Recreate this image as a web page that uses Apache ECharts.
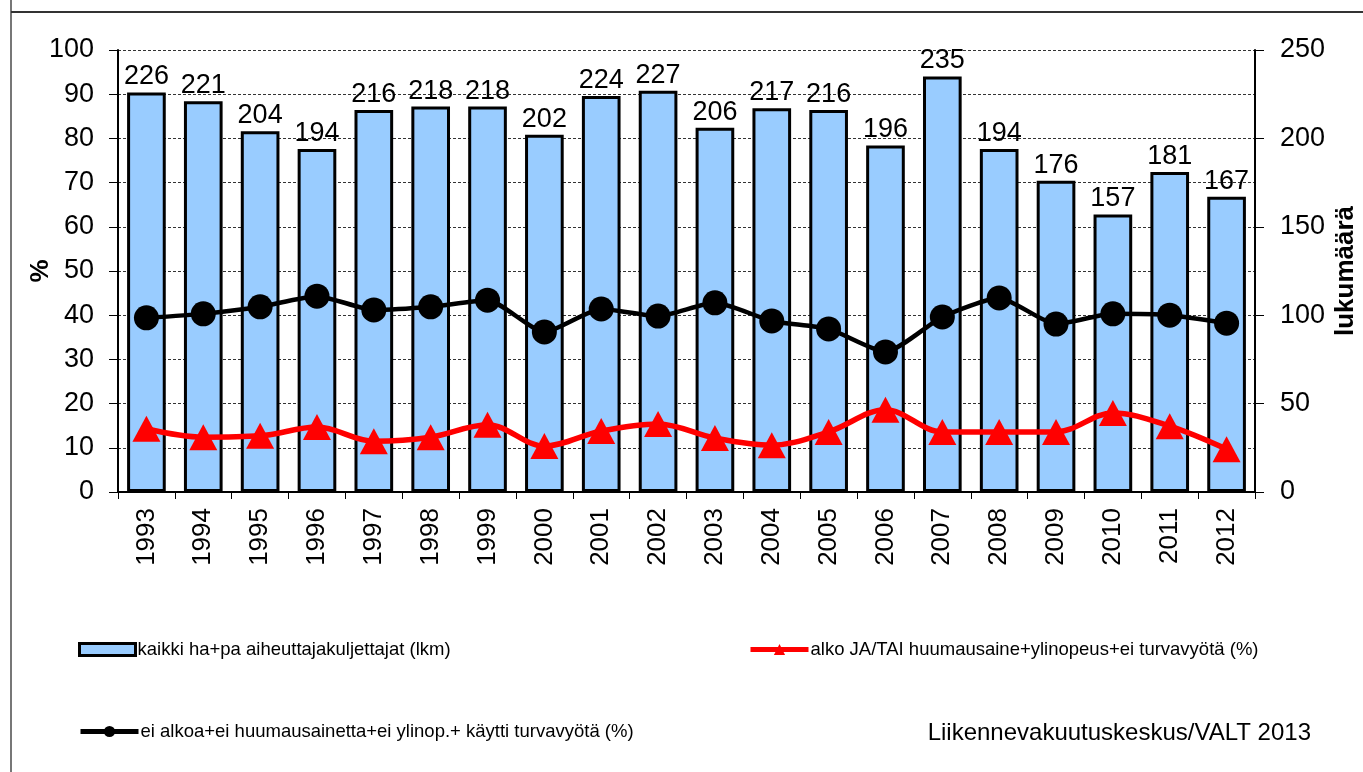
<!DOCTYPE html>
<html>
<head>
<meta charset="utf-8">
<script src="https://cdn.jsdelivr.net/npm/echarts@6/dist/echarts.min.js"></script>
<style>
html, body { margin: 0; padding: 0; background: #fff; }
#chart { width: 1363px; height: 772px; }
</style>
</head>
<body>
<div id="chart"></div>
<script>
var years = ['1993','1994','1995','1996','1997','1998','1999','2000','2001','2002',
	'2003','2004','2005','2006','2007','2008','2009','2010','2011','2012'];
var kaikki = [226,221,204,194,216,218,218,202,224,227,206,217,216,196,235,194,176,157,181,167];
var eiAlkoa = [39.4,40.3,41.9,44.3,41.2,41.9,43.4,36.2,41.4,39.8,42.8,38.7,36.9,31.7,39.6,43.9,38.0,40.3,40.0,38.2];
var alkoJaTai = [14.3,12.4,12.7,14.7,11.5,12.4,15.2,10.4,13.8,15.4,12.2,10.6,13.6,18.6,13.6,13.6,13.6,17.9,14.9,9.7];

var nameBar = 'kaikki ha+pa aiheuttajakuljettajat (lkm)';
var nameRed = 'alko JA/TAI huumausaine+ylinopeus+ei turvavyötä (%)';
var nameBlack = 'ei alkoa+ei huumausainetta+ei ylinop.+ käytti turvavyötä (%)';

var font = 'Liberation Sans, Arial, sans-serif';

var legendBase = {
	orient: 'horizontal',
	itemGap: 0,
	itemWidth: 56,
	itemHeight: 12,
	textStyle: { fontFamily: font, fontSize: 18.5, color: '#000', padding: [0, 0, 0, -3] },
	selectedMode: false
};

var option = {
	animation: false,
	backgroundColor: '#fff',
	textStyle: { fontFamily: font },
	grid: { left: 118, right: 108, top: 50, bottom: 280, containLabel: false, outerBoundsMode: 'none' },
	legend: [
		Object.assign({}, legendBase, { left: 73, top: 635, data: [{ name: nameBar, icon: 'rect' }],
			itemStyle: { borderWidth: 3 } }),
		Object.assign({}, legendBase, { left: 743, top: 635, data: [nameRed],
			lineStyle: { width: 5 }, itemWidth: 58, itemHeight: 14 }),
		Object.assign({}, legendBase, { left: 73, top: 717, data: [nameBlack],
			lineStyle: { width: 5 }, itemWidth: 58, itemHeight: 14 })
	],
	graphic: [
		{ type: 'line', shape: { x1: 11, y1: 0, x2: 11, y2: 772 }, style: { stroke: '#777', lineWidth: 2 } },
		{ type: 'line', shape: { x1: 11, y1: 12, x2: 1363, y2: 12 }, style: { stroke: '#333', lineWidth: 2 } },
		{ type: 'text', right: 52, top: 721,
			style: { text: 'Liikennevakuutuskeskus/VALT 2013', fontFamily: font, fontSize: 24, fill: '#000' } }
	],
	xAxis: {
		type: 'category',
		data: years,
		axisLine: { lineStyle: { color: '#000', width: 2 } },
		axisTick: { show: true, length: 7, lineStyle: { color: '#000', width: 1 } },
		axisLabel: { rotate: 90, fontSize: 26, color: '#000', margin: 16, fontFamily: font },
		splitLine: { show: false }
	},
	yAxis: [
		{
			type: 'value', min: 0, max: 100, interval: 10,
			name: '%', nameLocation: 'middle', nameGap: 64, nameRotate: 90, nameMoveOverlap: false,
			nameTextStyle: { fontSize: 26, color: '#000', fontWeight: 'bold', fontFamily: font },
			axisLine: { show: true, lineStyle: { color: '#000', width: 2 } },
			axisTick: { show: true, length: 9, lineStyle: { color: '#000', width: 1 } },
			axisLabel: { fontSize: 27, color: '#000', margin: 24, fontFamily: font },
			splitLine: { show: true, lineStyle: { color: '#333', type: [3, 2], width: 1 } }
		},
		{
			type: 'value', min: 0, max: 250, interval: 50,
			name: 'lukumäärä', nameLocation: 'middle', nameGap: 78, nameRotate: 90, nameMoveOverlap: false,
			nameTextStyle: { fontSize: 26, color: '#000', fontWeight: 'bold', fontFamily: font },
			axisLine: { show: true, lineStyle: { color: '#000', width: 2 } },
			axisTick: { show: true, length: 9, lineStyle: { color: '#000', width: 1 } },
			axisLabel: { fontSize: 27, color: '#000', margin: 25, fontFamily: font },
			splitLine: { show: false }
		}
	],
	series: [
		{
			name: nameBar,
			type: 'bar',
			yAxisIndex: 1,
			data: kaikki,
			barWidth: '68%',
			itemStyle: { color: '#99CCFF', borderColor: '#000', borderWidth: 3 },
			label: { show: true, position: 'top', distance: 2, fontSize: 27, color: '#000', fontFamily: font },
			z: 1
		},
		{
			name: nameRed,
			type: 'line',
			yAxisIndex: 0,
			data: alkoJaTai,
			smooth: 0.35,
			symbol: 'triangle',
			symbolSize: [28, 26],
			lineStyle: { color: '#FF0000', width: 5.5 },
			itemStyle: { color: '#FF0000' },
			z: 3
		},
		{
			name: nameBlack,
			type: 'line',
			yAxisIndex: 0,
			data: eiAlkoa,
			smooth: 0.2,
			symbol: 'circle',
			symbolSize: 25,
			lineStyle: { color: '#000', width: 4.5 },
			itemStyle: { color: '#000' },
			z: 4
		}
	]
};

var chart = echarts.init(document.getElementById('chart'));
chart.setOption(option);
</script>
</body>
</html>
